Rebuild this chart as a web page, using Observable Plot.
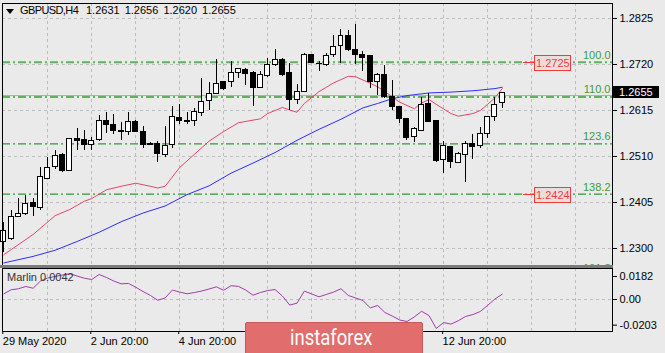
<!DOCTYPE html>
<html><head><meta charset="utf-8">
<script src="https://cdn.jsdelivr.net/npm/d3@7"></script>
<script src="https://cdn.jsdelivr.net/npm/@observablehq/plot@0.6"></script>
<style>
html,body{margin:0;padding:0;background:#eaeaea;}
#wrap{position:relative;width:665px;height:353px;overflow:hidden;background:#eaeaea;font-family:"Liberation Sans",Arial,sans-serif;color:#000;}
.abs{position:absolute;white-space:nowrap;}
</style></head><body><div id="wrap"></div>
<script>
// ---- data (GBPUSD H4) ----
const opens  = [1.2314,1.2321,1.2372,1.2379,1.2404,1.2392,1.2459,1.2486,1.2514,1.2478,1.2549,1.2547,1.2537,1.2547,1.2592,1.2583,1.2568,1.2567,1.2588,1.2567,1.2539,1.2539,1.2514,1.2537,1.2598,1.2591,1.2590,1.2610,1.2636,1.2653,1.2680,1.2681,1.2701,1.2708,1.2701,1.2666,1.2693,1.2718,1.2731,1.2701,1.2638,1.2657,1.2741,1.2721,1.2719,1.2741,1.2762,1.2785,1.2754,1.2742,1.2739,1.2681,1.2695,1.2645,1.2623,1.2596,1.2554,1.2569,1.2630,1.2590,1.2501,1.2531,1.2496,1.2514,1.2539,1.2533,1.2562,1.2600,1.2631];
const highs  = [1.2359,1.2387,1.2414,1.2421,1.2415,1.2486,1.2508,1.2524,1.2516,1.2551,1.2574,1.2569,1.2554,1.2604,1.2610,1.2605,1.2588,1.2611,1.2592,1.2579,1.2543,1.2544,1.2579,1.2625,1.2629,1.2611,1.2619,1.2687,1.2680,1.2731,1.2681,1.2727,1.2710,1.2710,1.2703,1.2704,1.2733,1.2754,1.2733,1.2722,1.2674,1.2744,1.2742,1.2727,1.2744,1.2786,1.2800,1.2798,1.2811,1.2750,1.2739,1.2699,1.2718,1.2684,1.2623,1.2597,1.2577,1.2645,1.2653,1.2592,1.2544,1.2531,1.2520,1.2544,1.2560,1.2577,1.2600,1.2645,1.2656];
const lows   = [1.2290,1.2318,1.2370,1.2375,1.2372,1.2387,1.2458,1.2480,1.2474,1.2477,1.2524,1.2524,1.2524,1.2544,1.2562,1.2560,1.2547,1.2558,1.2566,1.2528,1.2534,1.2497,1.2507,1.2528,1.2582,1.2582,1.2579,1.2602,1.2615,1.2651,1.2661,1.2668,1.2687,1.2672,1.2625,1.2665,1.2691,1.2716,1.2693,1.2615,1.2628,1.2655,1.2722,1.2703,1.2716,1.2737,1.2722,1.2750,1.2719,1.2704,1.2666,1.2649,1.2643,1.2615,1.2585,1.2547,1.2541,1.2567,1.2587,1.2497,1.2471,1.2483,1.2493,1.2450,1.2503,1.2528,1.2552,1.2590,1.2620];
const closes = [1.2339,1.2372,1.2379,1.2402,1.2394,1.2463,1.2484,1.2512,1.2477,1.2550,1.2545,1.2537,1.2545,1.2592,1.2581,1.2569,1.2566,1.2588,1.2567,1.2537,1.2537,1.2516,1.2535,1.2600,1.2590,1.2589,1.2611,1.2634,1.2653,1.2676,1.2663,1.2701,1.2709,1.2698,1.2666,1.2695,1.2718,1.2731,1.2697,1.2638,1.2657,1.2742,1.2724,1.2720,1.2739,1.2760,1.2785,1.2752,1.2741,1.2734,1.2681,1.2695,1.2645,1.2623,1.2596,1.2552,1.2572,1.2628,1.2588,1.2499,1.2534,1.2497,1.2516,1.2539,1.2531,1.2562,1.2600,1.2628,1.2655];

const redIdx = [0,4,7,9,11,12,14,16,18,20,21,22,24,26,28,30,32,34,35,36,38,39,40,41,43,45,47,48,50,51,52,54,56,57,58,59,61,62,64,65,66,67,68];
const redVal = [1.2286,1.2332,1.2375,1.2389,1.2408,1.2414,1.2434,1.2442,1.2449,1.2442,1.2438,1.2442,1.2485,1.2515,1.2545,1.2567,1.2587,1.2593,1.2596,1.2608,1.2622,1.2616,1.2611,1.2631,1.2658,1.2678,1.2693,1.2692,1.2677,1.2669,1.2658,1.2634,1.2619,1.2632,1.2640,1.2629,1.2608,1.2602,1.2608,1.2615,1.2629,1.2644,1.2665];
const blueIdx = [0,4,7,10,13,16,19,22,25,28,31,34,37,40,43,46,49,51,53,55,58,61,64,67,68];
const blueVal = [1.2267,1.2282,1.2296,1.2316,1.2337,1.2361,1.2381,1.2397,1.2423,1.2443,1.2472,1.2495,1.2519,1.2547,1.2572,1.2595,1.2621,1.2631,1.2642,1.2649,1.2655,1.2657,1.2660,1.2665,1.2668];

const marlin = [0.0045,0.0077,0.0085,0.0103,0.0089,0.0146,0.0170,0.0182,0.0194,0.0203,
 0.0186,0.0168,0.0158,0.0198,0.0174,0.0146,0.0124,0.0127,0.0097,0.0063,
 0.0032,-0.0006,0.0012,0.0075,0.0059,0.0045,0.0055,0.0067,0.0083,0.0100,
 0.0073,0.0109,0.0104,0.0075,0.0034,0.0055,0.0071,0.0079,0.0028,-0.0044,
 -0.0029,0.0066,0.0044,0.0021,0.0040,0.0059,0.0085,0.0032,0.0012,-0.0008,
 -0.0067,-0.0047,-0.0103,-0.0131,-0.0162,-0.0174,-0.0138,-0.0093,-0.0127,-0.0229,
 -0.0182,-0.0195,-0.0168,-0.0134,-0.0119,-0.0095,-0.0047,0.0004,0.0042];

const fibLabels = ["100.0","110.0","123.6","138.2","161.8"];
const fibPrices = [1.2725,1.2646,1.2539,1.2424,1.2238];
const priceBoxLabels = ["1.2725","1.2424"];
const priceBoxValues = [1.2725,1.2424];

const priceTicks = [1.2300,1.2405,1.2510,1.2615,1.2720,1.2825];
const indTicks = [0.0182,0,-0.0203];
const indTickLabels = ["0.0182","0.00","-0.0203"];
const xTickIdx = [0,12,24,36,48,60];
// labels at 36 and 48 sit under the watermark in the reference
const xTickLabels = ["29 May 2020","2 Jun 20:00","4 Jun 20:00","","","12 Jun 20:00"];
const gridIdx = [6,12,18,24,30,36,42,48,54,60,66,72,78];
const refLine = 1.2650;
const symbol = "GBPUSD,H4";
const ohlcText = "1.2631 1.2656 1.2620 1.2655";
const lastPrice = "1.2655";
const marlinText = "Marlin 0.0042";

// ---- build ----
const candles = opens.map((o,i)=>({i,o,h:highs[i],l:lows[i],c:closes[i]}));
const red = redIdx.map((i,k)=>({i,v:redVal[k]}));
const blue = blueIdx.map((i,k)=>({i,v:blueVal[k]}));
const fib = fibLabels.map((label,k)=>({label,price:fibPrices[k],major:k<2}));
const boxes = priceBoxLabels.map((t,k)=>({t,price:priceBoxValues[k]}));
const osc = marlin.map((v,i)=>({i,v}));
const xDomain = [-0.18, 83.04];
const font = "Liberation Sans, Arial, sans-serif";
const wrap = document.getElementById("wrap");

const main = Plot.plot({
  width:665, height:265, marginLeft:2, marginRight:53, marginTop:3, marginBottom:0,
  x:{type:"linear", domain:xDomain, axis:null, label:null},
  y:{domain:[1.22612,1.28592], axis:null, label:null},
  style:{background:"transparent", fontFamily:font, fontSize:"11px", color:"#000"},
  marks:[
    Plot.ruleX(gridIdx, {stroke:"#bdbdbd", strokeDasharray:"3,3", shapeRendering:"crispEdges"}),
    Plot.ruleY(priceTicks, {stroke:"#bdbdbd", strokeDasharray:"3,3", shapeRendering:"crispEdges"}),
    Plot.ruleY([refLine], {stroke:"#b0b0b0", shapeRendering:"crispEdges"}),
    Plot.ruleY(fib, {y:"price", stroke:d=>d.major?"#62b062":"#2f9a2f", strokeWidth:d=>d.major?2:1.3, strokeDasharray:"8,3,2,3"}),
    Plot.text(fib, {y:"price", text:"label", frameAnchor:"right", textAnchor:"end", dx:-2, dy:-7, fill:"#3f9a3f", fontSize:11}),
    Plot.line(red, {x:"i", y:"v", stroke:"#e8456a", strokeWidth:1}),
    Plot.line(blue, {x:"i", y:"v", stroke:"#2d2dff", strokeWidth:1}),
    Plot.ruleX(candles, {x:"i", y1:"l", y2:"h", stroke:"#000", shapeRendering:"crispEdges"}),
    Plot.rect(candles, {x1:d=>d.i-0.34, x2:d=>d.i+0.34, y1:d=>Math.min(d.o,d.c), y2:d=>Math.max(d.o,d.c),
      fill:d=>d.c>=d.o?"#fff":"#000", stroke:"#000", shapeRendering:"crispEdges"}),
    Plot.axisY(priceTicks, {anchor:"right", label:null, tickSize:4, tickPadding:3, tickFormat:d=>d.toFixed(4), fontSize:11}),
    Plot.frame({stroke:"#000", shapeRendering:"crispEdges"})
  ]
});
main.style.position="absolute"; main.style.left="0px"; main.style.top="0px";
wrap.appendChild(main);

const xFmt = new Map(xTickIdx.map((v,k)=>[v,xTickLabels[k]]));
const yFmt = new Map(indTicks.map((v,k)=>[v,indTickLabels[k]]));
const ind = Plot.plot({
  width:665, height:85, marginLeft:2, marginRight:53, marginTop:0, marginBottom:22,
  x:{type:"linear", domain:xDomain, axis:null, label:null},
  y:{domain:[-0.02531,0.02452], axis:null, label:null},
  style:{background:"transparent", fontFamily:font, fontSize:"11px", color:"#000"},
  marks:[
    Plot.ruleX(gridIdx, {stroke:"#bdbdbd", strokeDasharray:"3,3", shapeRendering:"crispEdges"}),
    Plot.ruleY([0], {stroke:"#bdbdbd", strokeDasharray:"3,3", shapeRendering:"crispEdges"}),
    Plot.line(osc, {x:"i", y:"v", stroke:"#a23ca8", strokeWidth:1}),
    Plot.axisY(indTicks, {anchor:"right", label:null, tickSize:4, tickPadding:3, tickFormat:d=>yFmt.get(d), fontSize:11}),
    Plot.axisX(xTickIdx, {anchor:"bottom", label:null, tickSize:3, tickPadding:3, textAnchor:"start", dx:-1, tickFormat:d=>xFmt.get(d), fontSize:11}),
    Plot.frame({stroke:"#000", shapeRendering:"crispEdges"})
  ]
});
ind.style.position="absolute"; ind.style.left="0px"; ind.style.top="268px";
wrap.appendChild(ind);

// overlays positioned through the plot's scales
const xs = main.scale("x"), ys = main.scale("y");
function div(css, text){const d=document.createElement("div");d.className="abs";d.style.cssText+=css;if(text!=null)d.textContent=text;wrap.appendChild(d);return d;}

// pane separator
div("left:0;top:265px;width:613px;height:3px;background:#7c7c7c;");

// title
div("left:6px;top:9px;width:0;height:0;border-left:4.5px solid transparent;border-right:4.5px solid transparent;border-top:5px solid #000;");
div("left:20px;top:4px;font-size:11px;line-height:13px;letter-spacing:-0.6px;", symbol);
div("left:86px;top:4px;font-size:11px;line-height:13px;word-spacing:2px;", ohlcText);

// price boxes (arrow price labels)
boxes.forEach(b=>{
  const y = ys.apply(b.price);
  const x0 = xs.apply(72.44);
  div(`left:${x0-11}px;top:${Math.round(y)}px;width:11px;height:1px;background:#f03c3c;`);
  div(`left:${x0}px;top:${Math.round(y)-7}px;width:35px;height:14px;border:1px solid #f03c3c;background:#eedcdc;color:#f03c3c;font-size:11px;line-height:14px;text-align:center;`, b.t);
});

// current price box
{
  const y = ys.apply(closes[closes.length-1]);
  div(`left:613px;top:${Math.round(y)-6}px;width:46px;height:12px;background:#000;color:#fff;font-size:11px;line-height:12px;text-indent:6px;`, lastPrice);
}

// indicator label
div("left:7px;top:271px;font-size:11px;line-height:13px;color:#333;", marlinText);

// watermark
const wm = div("left:245px;top:322px;width:176px;height:33px;background:#e26d6d;border:1px solid #c45a5a;border-radius:2px;");
const wt = document.createElement("div");
wt.className="abs";
wt.style.cssText="left:44px;top:2px;font-family:Roboto,sans-serif;font-size:22px;line-height:26px;color:#fff;transform:scaleX(0.84);transform-origin:left top;";
wt.textContent="instaforex";
wm.appendChild(wt);
</script></body></html>
